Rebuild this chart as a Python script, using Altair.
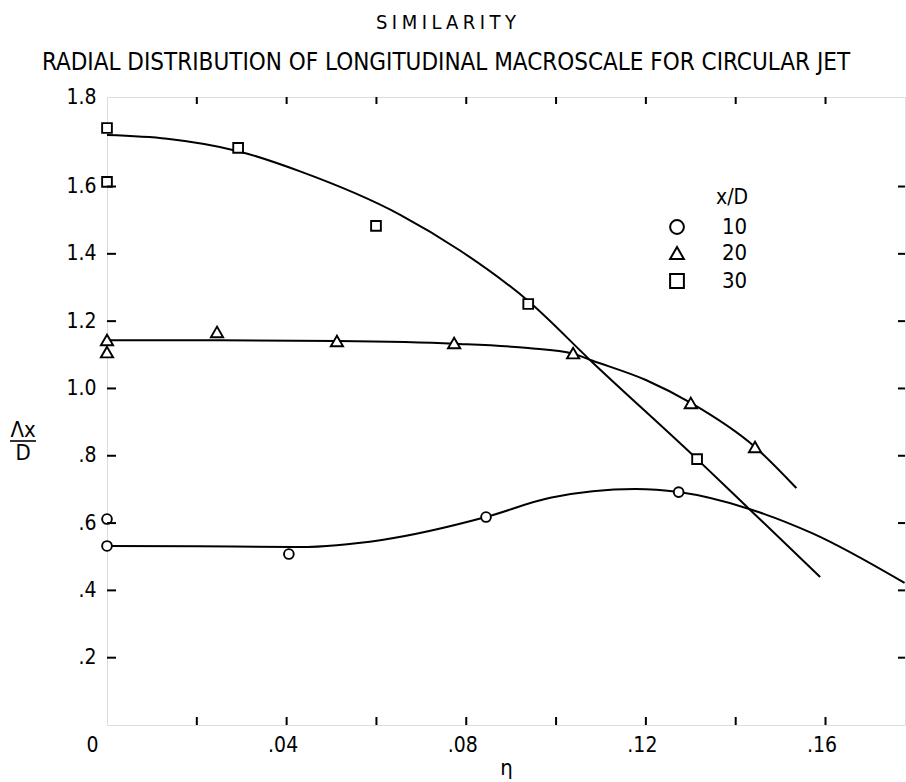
import altair as alt
import pandas as pd

# ---------------- data ----------------
# measured points (x/D = 10, 20, 30)
eta10 = [0.0, 0.0, 0.0405, 0.0844, 0.1273]
lam10 = [0.612, 0.532, 0.508, 0.618, 0.692]
eta20 = [0.0, 0.0, 0.0245, 0.0512, 0.0773, 0.1038, 0.130, 0.1443]
lam20 = [1.144, 1.108, 1.168, 1.141, 1.135, 1.105, 0.957, 0.826]
eta30 = [0.0, 0.0, 0.0292, 0.0599, 0.0938, 0.1314]
lam30 = [1.774, 1.614, 1.715, 1.483, 1.251, 0.790]

# faired curves
c10_eta = [0.0, 0.02, 0.0428, 0.0612, 0.0844, 0.0987, 0.1176, 0.1273, 0.143, 0.157, 0.1776]
c10_lam = [0.532, 0.531, 0.529, 0.550, 0.618, 0.675, 0.701, 0.692, 0.642, 0.570, 0.422]
c20_eta = [0.0, 0.025, 0.0512, 0.0773, 0.0938, 0.1038, 0.108, 0.120, 0.130, 0.1443, 0.1535]
c20_lam = [1.143, 1.143, 1.141, 1.133, 1.120, 1.103, 1.083, 1.025, 0.957, 0.826, 0.704]
c30_eta = [0.0, 0.0134, 0.0292, 0.043, 0.0653, 0.0786, 0.0938, 0.1083, 0.1314, 0.143, 0.1588]
c30_lam = [1.753, 1.742, 1.705, 1.645, 1.516, 1.410, 1.260, 1.075, 0.790, 0.642, 0.440]

series = ["10", "20", "30"]
shapes = ["circle", "triangle-up", "square"]
marker_sizes = [95, 150, 95]

# axis ticks / labels
ticks_x = [0.02, 0.04, 0.06, 0.08, 0.10, 0.12, 0.14, 0.16]
ticks_y = [0.2, 0.4, 0.6, 0.8, 1.0, 1.2, 1.4, 1.6]
xlabel_values = [0.0, 0.04, 0.08, 0.12, 0.16]
ylabel_values = [0.2, 0.4, 0.6, 0.8, 1.0, 1.2, 1.4, 1.6, 1.866]

XMAX = 0.1777
YMAX = 1.866

# ---------------- tables ----------------
pts = pd.DataFrame({
    "eta": eta10 + eta20 + eta30,
    "lam": lam10 + lam20 + lam30,
    "xD": ["10"] * len(eta10) + ["20"] * len(eta20) + ["30"] * len(eta30),
})
curves = pd.DataFrame({
    "eta": c10_eta + c20_eta + c30_eta,
    "lam": c10_lam + c20_lam + c30_lam,
    "xD": ["10"] * len(c10_eta) + ["20"] * len(c20_eta) + ["30"] * len(c30_eta),
})
tx = pd.DataFrame({"eta": ticks_x})
ty = pd.DataFrame({"lam": ticks_y})

W, H = 798, 628
FONT = "Liberation Sans Narrow, DejaVu Sans Condensed, sans-serif"
FS = 21

xs = alt.Scale(domain=[0, XMAX], nice=False, zero=False)
ys = alt.Scale(domain=[0, YMAX], nice=False, zero=False)

x_axis = alt.Axis(
    values=xlabel_values,
    labelExpr="datum.value == 0 ? '0' : replace(format(datum.value, '.2f'), '0.', '.')",
    tickSize=0, domain=False, grid=False, labelPadding=9,
    labelOffset={"condition": {"test": "datum.value == 0", "value": -15}, "value": -4},
    labelFlush=False, labelOverlap=False, labelFont=FONT, labelFontSize=FS,
    labelColor="black",
    title="η", titlePadding=2, titleFont=FONT, titleFontSize=22,
    titleFontWeight="normal", titleColor="black",
)
y_axis = alt.Axis(
    values=ylabel_values,
    labelExpr="datum.value > 1.7 ? '1.8' : (datum.value >= 1 ? format(datum.value, '.1f') : replace(format(datum.value, '.1f'), '0.', '.'))",
    tickSize=0, domain=False, grid=False, labelPadding=11,
    labelFlush=False, labelOverlap=False, labelFont=FONT, labelFontSize=FS,
    labelColor="black", title=None,
)

X = alt.X("eta:Q", scale=xs, axis=x_axis)
Y = alt.Y("lam:Q", scale=ys, axis=y_axis)

lines = alt.Chart(curves).mark_line(
    color="black", strokeWidth=2, interpolate="monotone"
).encode(x=X, y=Y, detail="xD:N")

points = alt.Chart(pts).mark_point(
    fill="white", stroke="black", strokeWidth=1.9, opacity=1, fillOpacity=1
).encode(
    x=X, y=Y,
    shape=alt.Shape("xD:N", scale=alt.Scale(domain=series, range=shapes), legend=None),
    size=alt.Size("xD:N", scale=alt.Scale(type="ordinal", domain=series, range=marker_sizes), legend=None),
)

tick_left = alt.Chart(ty).mark_rule(color="black", strokeWidth=2).encode(
    y=Y, x=alt.value(0), x2=alt.value(9))
tick_right = alt.Chart(ty).mark_rule(color="black", strokeWidth=2).encode(
    y=Y, x=alt.value(W - 7), x2=alt.value(W))
tick_bottom = alt.Chart(tx).mark_rule(color="black", strokeWidth=2).encode(
    x=X, y=alt.value(H - 8), y2=alt.value(H))
tick_top = alt.Chart(tx).mark_rule(color="black", strokeWidth=2).encode(
    x=X, y=alt.value(0), y2=alt.value(7))

# y-axis title as a fraction  Λx / D
ytitle_num = alt.Chart(pd.DataFrame({"t": ["Λx"]})).mark_text(
    font=FONT, fontSize=22, color="black"
).encode(text="t:N", x=alt.value(-84), y=alt.value(333))
ytitle_bar = alt.Chart(pd.DataFrame({"t": ["bar"]})).mark_rule(
    color="black", strokeWidth=1.6
).encode(x=alt.value(-97), x2=alt.value(-71), y=alt.value(344))
ytitle_den = alt.Chart(pd.DataFrame({"t": ["D"]})).mark_text(
    font=FONT, fontSize=22, color="black"
).encode(text="t:N", x=alt.value(-84), y=alt.value(356))

# hand-placed key (x/D legend)
key_rows_y = [130, 156, 184]
key_layers = []
key_layers.append(
    alt.Chart(pd.DataFrame({"t": ["x/D"]})).mark_text(
        font=FONT, fontSize=21, color="black", align="center"
    ).encode(text="t:N", x=alt.value(625), y=alt.value(101))
)
for lab, shp, ry in zip(series, shapes, key_rows_y):
    key_layers.append(
        alt.Chart(pd.DataFrame({"t": [lab]})).mark_point(
            shape=shp, size=190, fill="white", stroke="black",
            strokeWidth=2, opacity=1, fillOpacity=1
        ).encode(x=alt.value(570), y=alt.value(ry))
    )
    key_layers.append(
        alt.Chart(pd.DataFrame({"t": [lab]})).mark_text(
            font=FONT, fontSize=22, color="black", align="left"
        ).encode(text="t:N", x=alt.value(615), y=alt.value(ry))
    )

title_text = "\u2005".join("SIMILARITY")

chart = alt.layer(
    lines, points, tick_left, tick_right, tick_bottom, tick_top,
    ytitle_num, ytitle_bar, ytitle_den, *key_layers,
).properties(
    width=W, height=H,
    padding={"left": 107, "top": 97, "right": 1, "bottom": 57},
    autosize=alt.AutoSizeParams(type="none"),
    title=alt.TitleParams(
        text=title_text,
        subtitle="RADIAL DISTRIBUTION OF LONGITUDINAL MACROSCALE FOR CIRCULAR JET",
        anchor="middle", dx=-60, offset=11,
        font=FONT, fontSize=20, fontWeight="normal", color="black",
        subtitleFont=FONT, subtitleFontSize=24, subtitleColor="black",
        subtitlePadding=18,
    ),
).configure_view(
    stroke="black", strokeWidth=2
).configure(background="white")

chart.save("out.html", embed_options={"renderer": "svg", "actions": False})
